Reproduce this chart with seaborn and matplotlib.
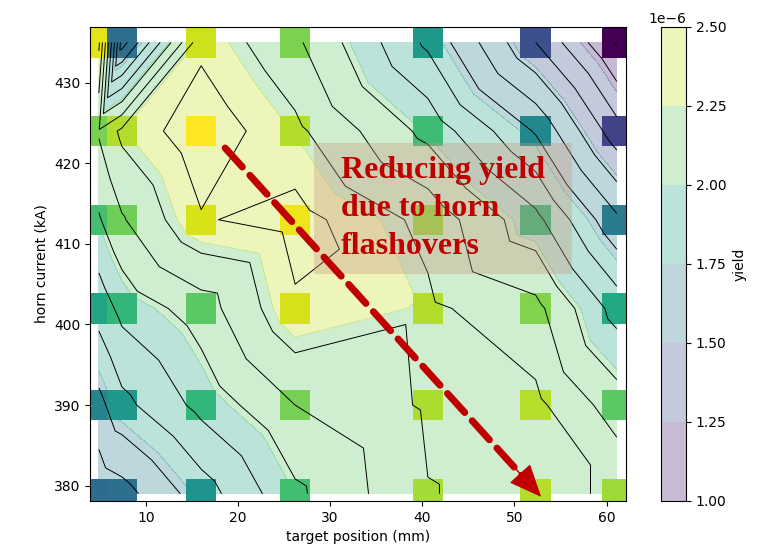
import numpy as np
import pandas as pd
import matplotlib
matplotlib.use("Agg")
import matplotlib.pyplot as plt
import matplotlib.tri as mtri
import seaborn as sns

# ---- data -------------------------------------------------------------
target_pos = [4.9, 7.4, 16.0, 26.2, 40.6, 52.3, 61.1]          # mm
horn_current = [379.0, 390.0, 402.0, 413.0, 424.0, 435.0]      # kA
# yield (units of 1e-6) for each horn-current row, ordered by target position
yield_379 = [1.55, 1.58, 1.77, 2.00, 2.217, 2.245, 2.208]
yield_390 = [1.69, 1.79, 1.95, 2.12, 2.233, 2.245, 2.07]
yield_402 = [1.86, 1.95, 2.07, 2.305, 2.24, 2.15, 1.88]
yield_413 = [2.01, 2.11, 2.311, 2.36, 2.19, 1.95, 1.64]
yield_424 = [2.13, 2.243, 2.39, 2.244, 1.99, 1.71, 1.36]
yield_435 = [2.34, 1.57, 2.295, 2.14, 1.80, 1.42, 1.11]
yield_scale = 1e-6
cbar_ticks = [1.00, 1.25, 1.50, 1.75, 2.00, 2.25, 2.50]
line_levels = [1.12, 1.22, 1.32, 1.42, 1.52, 1.62, 1.72, 1.82, 1.92,
               2.02, 2.12, 2.22, 2.32]
# cells (column, row) whose triangulation diagonal runs top-left -> bottom-right
backslash_cells = [(3, 2), (5, 0), (4, 1)]

rows = [yield_379, yield_390, yield_402, yield_413, yield_424, yield_435]
nx, ny = len(target_pos), len(horn_current)
records = []
for hc, row in zip(horn_current, rows):
    for tp, yv in zip(target_pos, row):
        records.append({"target position (mm)": tp, "horn current (kA)": hc,
                        "yield": yv * yield_scale})
df = pd.DataFrame(records)            # node index = row * nx + column

# triangulation of the measurement grid
triangles = []
for j in range(ny - 1):
    for i in range(nx - 1):
        a, b = j * nx + i, j * nx + i + 1
        c, d = (j + 1) * nx + i, (j + 1) * nx + i + 1
        if (i, j) in backslash_cells:
            triangles += [[a, b, c], [b, d, c]]
        else:
            triangles += [[a, b, d], [a, d, c]]
tri = mtri.Triangulation(df["target position (mm)"], df["horn current (kA)"],
                         triangles=np.array(triangles))
z = df["yield"].to_numpy()

# ---- figure -----------------------------------------------------------
plt.rcParams["font.family"] = ["DejaVu Sans"]
fig = plt.figure(figsize=(7.61, 5.55), dpi=100)
ax = fig.add_axes([0.1183, 0.0973, 0.7043, 0.8546])
cax = fig.add_axes([0.8686, 0.0973, 0.0329, 0.8546])

fill_levels = np.array(cbar_ticks) * yield_scale
cf = ax.tricontourf(tri, z, levels=fill_levels, cmap="viridis", alpha=0.3)

zmin, zmax = z.min(), z.max()
sns.scatterplot(data=df.sort_values(["target position (mm)", "horn current (kA)"]),
                x="target position (mm)", y="horn current (kA)",
                hue="yield", palette="viridis", hue_norm=(zmin, zmax),
                marker="s", s=480, linewidth=0, legend=False, ax=ax)

ax.tricontour(tri, z, levels=np.array(line_levels) * yield_scale,
              colors="k", linewidths=0.7)

ax.text(31.2, 414.4, "Reducing yield\ndue to horn\nflashovers",
        ha="left", va="center", multialignment="left", linespacing=1.4,
        fontsize=23, fontweight="bold", family="Liberation Serif", color="#c00000",
        bbox=dict(boxstyle="square,pad=0.85", mutation_aspect=0.5,
                  facecolor=(0.78, 0.6, 0.5), alpha=0.35, edgecolor="none"))

tip = (52.9, 378.6)
start = (18.6, 421.9)
head_base = (tip[0] - 0.1 * (tip[0] - start[0]), tip[1] - 0.1 * (tip[1] - start[1]))
ax.annotate("", xy=tip, xytext=start,
            arrowprops=dict(arrowstyle="-", color="#c00000", lw=5, linestyle="--",
                            shrinkA=0, shrinkB=18))
ax.annotate("", xy=tip, xytext=head_base,
            arrowprops=dict(arrowstyle="-|>,head_length=1.05,head_width=0.45",
                            color="#c00000", lw=1, shrinkA=0, shrinkB=0,
                            mutation_scale=20))

ax.set_xlim(3.94, 62.1)
ax.set_ylim(378.1, 436.95)
ax.set_xlabel("target position (mm)")
ax.set_ylabel("horn current (kA)")
ax.set_xticks([10, 20, 30, 40, 50, 60])
ax.set_yticks([380, 390, 400, 410, 420, 430])

cb = fig.colorbar(cf, cax=cax)
cb.set_label("yield")
cb.set_ticks(fill_levels)

fig.savefig("out.png", dpi=100)
